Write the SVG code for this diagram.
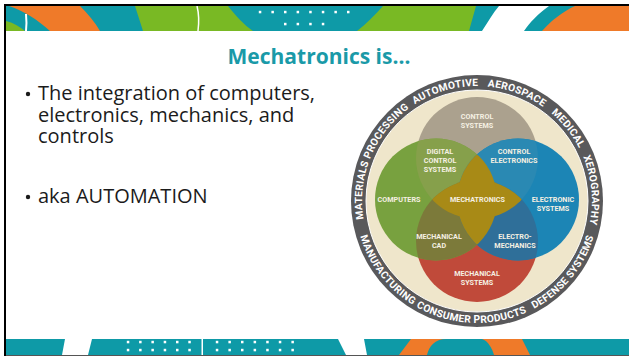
<svg xmlns="http://www.w3.org/2000/svg" width="629" height="356" viewBox="0 0 629 356">
<style>
.teal{fill:#0e9aa7}.orange{fill:#ef7a29}.green{fill:#79b924}.wh{fill:#ffffff}
.body{font-family:"Open Sans","Noto Sans",sans-serif;font-size:20px;fill:#1b1b1b}
.title{font-family:"Open Sans","Noto Sans",sans-serif;font-size:21px;font-weight:bold;fill:#1a9aa8}
.lbl{font-family:Roboto,"Liberation Sans",sans-serif;font-size:7.2px;font-weight:bold;fill:#f5f0e2;text-anchor:middle}
.ring{font-family:Roboto,"Liberation Sans",sans-serif;font-size:10.2px;font-weight:bold;fill:#ffffff;letter-spacing:0.3px}
</style>
<defs>
<clipPath id="cTop"><circle cx="477" cy="158" r="61"/></clipPath>
<clipPath id="cLeft"><circle cx="436" cy="199.5" r="61"/></clipPath>
<clipPath id="cBottom"><circle cx="477" cy="241" r="61"/></clipPath>
<path id="arcTop" d="M477,316 A115,115 0 0 1 477,86 A115,115 0 0 1 477,316"/>
<path id="arcBot" d="M477,79 A122,122 0 0 0 477,323 A122,122 0 0 0 477,79"/>
</defs>
<rect width="629" height="356" fill="#ffffff"/>
<g id="top-banner">
<rect class="teal" x="6" y="6" width="623" height="25"/>
<path class="orange" d="M9,6 L80,6 C88,14 95,22 100,31 L50,31 C38,20 24,11 9,6 Z"/>
<path class="green" d="M6,21 C14,23 20,27 25,31 L6,31 Z"/>
<path d="M26,14 C26.6,20 26.6,26 26,31" stroke="#fff" stroke-width="2" fill="none"/>
<path class="green" d="M135,6 L228,6 C236,16 244,25 253,31 L143,31 Z"/>
<path d="M197,6 C199,14 199,23 198,31" stroke="#fff" stroke-width="1.5" fill="none"/>
<path class="green" d="M383,6 L476,6 L469,31 L357,31 C366,24 375,15 383,6 Z"/>
<path class="wh" d="M499,6 L549,6 C538,14 530,22 524,31 L482,31 C488,22 493,13 499,6 Z"/>
<path class="orange" d="M575,6 L629,6 L629,31 L542,31 C552,20 562,12 575,6 Z"/>
<g class="wh">
<rect x="258.8" y="10.8" width="2.5" height="2.5"/><rect x="271.4" y="10.8" width="2.5" height="2.5"/><rect x="284" y="10.8" width="2.5" height="2.5"/><rect x="296.6" y="10.8" width="2.5" height="2.5"/><rect x="309.2" y="10.8" width="2.5" height="2.5"/><rect x="321.8" y="10.8" width="2.5" height="2.5"/><rect x="334.4" y="10.8" width="2.5" height="2.5"/><rect x="347" y="10.8" width="2.5" height="2.5"/>
<rect x="284" y="22.8" width="2.5" height="2.5"/><rect x="296.6" y="22.8" width="2.5" height="2.5"/><rect x="309.2" y="22.8" width="2.5" height="2.5"/><rect x="321.8" y="22.8" width="2.5" height="2.5"/>
</g>
</g>
<g id="bottom-banner">
<rect class="teal" x="6" y="339" width="623" height="16"/>
<rect x="6" y="355" width="623" height="1" fill="#555"/>
<path class="wh" d="M65,339 L92,339 L88,355 L62,355 Z"/>
<rect class="wh" x="201.5" y="339" width="1.5" height="16"/>
<g class="wh">
<rect x="126.8" y="340.8" width="2.5" height="2.5"/><rect x="139.1" y="340.8" width="2.5" height="2.5"/><rect x="151.4" y="340.8" width="2.5" height="2.5"/><rect x="163.7" y="340.8" width="2.5" height="2.5"/><rect x="176" y="340.8" width="2.5" height="2.5"/><rect x="188.3" y="340.8" width="2.5" height="2.5"/>
<rect x="126.8" y="348.8" width="2.5" height="2.5"/><rect x="139.1" y="348.8" width="2.5" height="2.5"/><rect x="151.4" y="348.8" width="2.5" height="2.5"/><rect x="163.7" y="348.8" width="2.5" height="2.5"/><rect x="176" y="348.8" width="2.5" height="2.5"/><rect x="188.3" y="348.8" width="2.5" height="2.5"/>
<rect x="215.8" y="340.8" width="2.5" height="2.5"/><rect x="228.4" y="340.8" width="2.5" height="2.5"/><rect x="241" y="340.8" width="2.5" height="2.5"/><rect x="253.6" y="340.8" width="2.5" height="2.5"/><rect x="266.2" y="340.8" width="2.5" height="2.5"/><rect x="278.8" y="340.8" width="2.5" height="2.5"/><rect x="291.4" y="340.8" width="2.5" height="2.5"/>
<rect x="215.8" y="348.8" width="2.5" height="2.5"/><rect x="228.4" y="348.8" width="2.5" height="2.5"/><rect x="241" y="348.8" width="2.5" height="2.5"/><rect x="253.6" y="348.8" width="2.5" height="2.5"/><rect x="266.2" y="348.8" width="2.5" height="2.5"/><rect x="278.8" y="348.8" width="2.5" height="2.5"/><rect x="291.4" y="348.8" width="2.5" height="2.5"/>
</g>
<path class="wh" d="M338,339 L364,339 L367,355 L346,355 Z"/>
<path class="orange" d="M399,355 L411,339 L522,339 L530,355 Z"/>
<path class="teal" d="M427,355 C429,346 435,339 446,339 L482,339 C488,341 492,348 494,355 Z"/>
</g>
<g id="frame">
<rect x="4" y="4" width="625" height="2" fill="#000"/>
<rect x="4" y="4" width="2" height="352" fill="#000"/>
</g>
<g id="title"><text class="title" x="319" y="64" text-anchor="middle">Mechatronics is…</text></g>
<g id="bullets">
<circle cx="28" cy="94" r="2.2" fill="#1b1b1b"/>
<text class="body" x="38" y="100">The integration of computers,</text>
<text class="body" x="38" y="121.5">electronics, mechanics, and</text>
<text class="body" x="38" y="143">controls</text>
<circle cx="28" cy="197" r="2.2" fill="#1b1b1b"/>
<text class="body" x="38" y="203">aka AUTOMATION</text>
</g>
<g id="ring">
<circle cx="477" cy="201" r="126" fill="#59595b"/>
<circle cx="477" cy="201" r="111" fill="#efe6cb" stroke="#ffffff" stroke-width="1"/>
<text class="ring" text-anchor="middle"><textPath href="#arcTop" startOffset="225.2">MATERIALS PROCESSING</textPath></text>
<text class="ring" text-anchor="middle"><textPath href="#arcTop" startOffset="328.6">AUTOMOTIVE</textPath></text>
<text class="ring" text-anchor="middle"><textPath href="#arcTop" startOffset="401.4">AEROSPACE</textPath></text>
<text class="ring" text-anchor="middle"><textPath href="#arcTop" startOffset="464">MEDICAL</textPath></text>
<text class="ring" text-anchor="middle"><textPath href="#arcTop" startOffset="530.3">XEROGRAPHY</textPath></text>
<text class="ring" text-anchor="middle"><textPath href="#arcBot" startOffset="271.5">MANUFACTURING</textPath></text>
<text class="ring" text-anchor="middle"><textPath href="#arcBot" startOffset="376.9">CONSUMER PRODUCTS</textPath></text>
<text class="ring" text-anchor="middle"><textPath href="#arcBot" startOffset="490.4">DEFENSE SYSTEMS</textPath></text>
</g>
<g id="venn">
<circle id="control-systems" cx="477" cy="158" r="61" fill="#aba18e"/>
<circle id="mechanical-systems" cx="477" cy="241" r="61" fill="#c04a3a"/>
<circle id="computers" cx="436" cy="199.5" r="61" fill="#78a13f"/>
<circle id="electronic-systems" cx="518" cy="199.5" r="61" fill="#1c85b5"/>
<circle id="digital-control" cx="436" cy="199.5" r="61" fill="#86a04b" clip-path="url(#cTop)"/>
<circle id="control-electronics" cx="518" cy="199.5" r="61" fill="#2a89b3" clip-path="url(#cTop)"/>
<circle id="mechanical-cad" cx="436" cy="199.5" r="61" fill="#7c7a3a" clip-path="url(#cBottom)"/>
<circle id="electro-mechanics" cx="518" cy="199.5" r="61" fill="#2f6f99" clip-path="url(#cBottom)"/>
<g id="mechatronics" fill="#a88a16">
<circle cx="477" cy="241" r="61" clip-path="url(#cTop)"/>
<circle cx="518" cy="199.5" r="61" clip-path="url(#cLeft)"/>
</g>
</g>
<g id="venn-labels">
<text class="lbl" x="477" y="118.5">CONTROL</text><text class="lbl" x="477" y="127.5">SYSTEMS</text>
<text class="lbl" x="440" y="153.5">DIGITAL</text><text class="lbl" x="440" y="162.5">CONTROL</text><text class="lbl" x="440" y="171.5">SYSTEMS</text>
<text class="lbl" x="514" y="153.5">CONTROL</text><text class="lbl" x="514" y="162.5">ELECTRONICS</text>
<text class="lbl" x="399" y="201.5">COMPUTERS</text>
<text class="lbl" x="477.5" y="201.5">MECHATRONICS</text>
<text class="lbl" x="553" y="201.5">ELECTRONIC</text><text class="lbl" x="553" y="210.5">SYSTEMS</text>
<text class="lbl" x="439" y="238.5">MECHANICAL</text><text class="lbl" x="439" y="247.5">CAD</text>
<text class="lbl" x="515" y="238.5">ELECTRO-</text><text class="lbl" x="515" y="247.5">MECHANICS</text>
<text class="lbl" x="477" y="275.5">MECHANICAL</text><text class="lbl" x="477" y="284.5">SYSTEMS</text>
</g>
<g id="connectors"/>
</svg>
